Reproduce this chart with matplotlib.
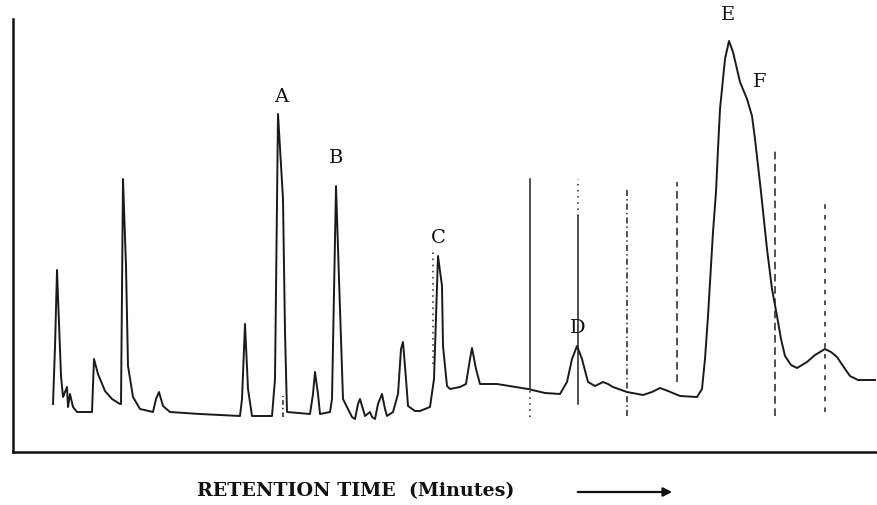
import matplotlib
matplotlib.use("Agg")
import matplotlib.pyplot as plt

# Detector trace, traced as (time, signal) pairs in arbitrary units
time = [40, 42, 44, 47, 48, 50, 54, 55, 57, 60, 64, 79, 81, 85, 92, 99, 107, 108,
        110, 113, 115, 120, 127, 140, 143, 146, 150, 157, 187, 227, 229, 232, 235,
        239, 259, 262, 265, 270, 272, 274, 297, 300, 302, 305, 307, 317, 319, 323,
        326, 330, 335, 339, 342, 345, 347, 350, 352, 357, 359, 362, 365, 369, 372,
        374, 380, 385, 388, 390, 393, 395, 402, 407, 417, 421, 424, 425, 429, 430,
        434, 437, 447, 453, 457, 459, 463, 467, 484, 515, 532, 547, 554, 559, 564,
        569, 575, 582, 590, 595, 600, 614, 630, 639, 647, 655, 667, 684, 689, 692,
        695, 700, 703, 705, 707, 709, 712, 716, 720, 727, 734, 739, 742, 745, 748,
        754, 759, 764, 768, 772, 778, 784, 794, 802, 812, 818, 824, 830, 837, 845,
        862]
signal = [48, 105, 182, 103, 76, 55, 65, 45, 58, 45, 40, 40, 93, 78, 61, 53, 48, 48,
          273, 186, 86, 55, 43, 40, 53, 60, 46, 40, 38, 36, 53, 128, 63,
          36, 36, 73, 338, 253, 120, 40, 38, 58, 80, 58, 38, 40, 53, 266,
          173, 53, 43, 35, 33, 48, 53, 43, 36, 40, 35, 33, 48, 58, 43,
          36, 40, 58, 103, 110, 73, 46, 41, 41, 45, 73, 166, 196, 166, 106,
          66, 63, 65, 68, 93, 104, 83, 68, 68, 63, 59, 58, 70, 93, 106,
          93, 70, 66, 70, 68, 65, 60, 57, 60, 64, 61, 56, 55, 63, 93,
          136, 220, 260, 303, 343, 363, 393, 411, 400, 370, 353, 336, 313, 286, 260,
          203, 163, 136, 113, 96, 87, 84, 90, 97, 103, 100, 95, 86, 76, 72,
          72]

# Fraction-collection marks: position, lower end, upper end, line style
mark_time = [270, 420, 517, 517, 565, 565, 614, 664, 762, 812]
mark_low = [35, 88, 63, 35, 48, 236, 36, 70, 36, 40]
mark_high = [56, 200, 273, 63, 236, 273, 265, 270, 305, 253]
mark_style = [(0, (3, 2, 1, 2)), (0, (1, 3)), "-", (0, (1, 3)), "-", (0, (1, 3)),
              (0, (4, 2, 1, 2)), (0, (5, 3)), (0, (5, 3)), (0, (3, 4))]

# Peak labels
peak_names = ["A", "B", "C", "D", "E", "F"]
peak_label_time = [268, 323, 425, 565, 715, 747]
peak_label_signal = [356, 295, 215, 125, 438, 371]

fig = plt.figure(figsize=(8.77, 5.06), dpi=100)
ax = fig.add_axes([13 / 877, (506 - 453) / 506, (877 - 13) / 877, (453 - 20) / 506])
ax.set_xlim(0, 864)
ax.set_ylim(0, 433)

ax.plot(time, signal, color="#1a1a1a", lw=1.4, solid_joinstyle="round")

for t, lo, hi, ls in zip(mark_time, mark_low, mark_high, mark_style):
    ax.plot([t, t], [lo, hi], color="#222222", lw=1.1, linestyle=ls)

for name, t, s in zip(peak_names, peak_label_time, peak_label_signal):
    ax.text(t, s, name, ha="center", va="center", fontsize=14,
            family="DejaVu Serif", color="#111111", clip_on=False)

for side in ("top", "right"):
    ax.spines[side].set_visible(False)
for side in ("left", "bottom"):
    ax.spines[side].set_linewidth(1.8)
    ax.spines[side].set_color("#111111")
ax.set_xticks([])
ax.set_yticks([])

fig.text(356 / 877, 1 - 491 / 506, "RETENTION TIME  (Minutes)", ha="center", va="center",
         fontsize=13.7, family="DejaVu Serif", weight="bold", color="#111111")
fig.patches.append(matplotlib.patches.FancyArrowPatch(
    (575 / 877, 1 - 493 / 506), (675 / 877, 1 - 493 / 506),
    transform=fig.transFigure, arrowstyle="-|>", mutation_scale=13,
    color="#111111", lw=1.6))

fig.savefig("out.png", dpi=100)
